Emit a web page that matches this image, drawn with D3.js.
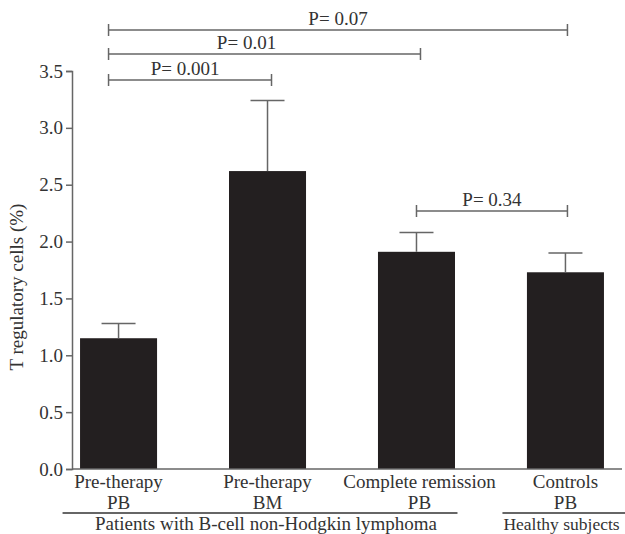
<!DOCTYPE html>
<html>
<head>
<meta charset="utf-8">
<script src="https://cdn.jsdelivr.net/npm/d3@7"></script>
<style>
  body { margin: 0; background: #fff; }
</style>
</head>
<body>
<div id="chart"></div>
<script>
// dados do gráfico
const categories = ["Pre-therapy PB", "Pre-therapy BM", "Complete remission PB", "Controls PB"];
const categoryLines = [["Pre-therapy", "PB"], ["Pre-therapy", "BM"], ["Complete remission", "PB"], ["Controls", "PB"]];
const means = [1.15, 2.62, 1.91, 1.73];
const errors = [0.13, 0.62, 0.17, 0.17];
const yTicks = [0.0, 0.5, 1.0, 1.5, 2.0, 2.5, 3.0, 3.5];
const comparisons = [
  { from: 0, to: 3, label: "P= 0.07", level: 3 },
  { from: 0, to: 2, label: "P= 0.01", level: 2 },
  { from: 0, to: 1, label: "P= 0.001", level: 1 },
  { from: 2, to: 3, label: "P= 0.34", level: 0 }
];
const groups = [
  { first: 0, last: 2, label: "Patients with B-cell non-Hodgkin lymphoma" },
  { first: 3, last: 3, label: "Healthy subjects" }
];

const width = 625, height = 534;
const axisColor = "#666";
const serif = '"Liberation Serif", "Times New Roman", Times, serif';

const svg = d3.select("#chart").append("svg")
  .attr("width", width)
  .attr("height", height)
  .attr("font-family", serif)
  .style("font-family", serif);

// escalas
const y = d3.scaleLinear().domain([0, 3.5]).range([469, 71]);
const x = d3.scaleBand().domain(categories).range([72, 612])
  .paddingInner(0.483).paddingOuter(0.054);
const cx = (i) => x(categories[i]) + x.bandwidth() / 2;

// eixo Y
const yAxis = svg.append("g")
  .attr("transform", "translate(72,0)")
  .call(d3.axisLeft(y).tickValues(yTicks).tickFormat(d3.format(".1f")).tickSize(6).tickPadding(3))
  .attr("font-family", serif);
yAxis.select(".domain").attr("stroke", axisColor).attr("stroke-width", 1.5);
yAxis.selectAll(".tick line").attr("stroke", axisColor).attr("stroke-width", 1.5);
yAxis.selectAll(".tick text").attr("font-size", "19px").attr("fill", "#333");

svg.append("text")
  .attr("transform", `translate(23,${y(1.6)}) rotate(-90)`)
  .attr("text-anchor", "middle")
  .attr("font-size", "19px")
  .attr("fill", "#333")
  .text("T regulatory cells (%)");

// barras
svg.selectAll(".bar")
  .data(means)
  .enter()
  .append("rect")
  .attr("class", "bar")
  .attr("x", (d, i) => x(categories[i]))
  .attr("width", x.bandwidth())
  .attr("y", (d) => y(d))
  .attr("height", (d) => y(0) - y(d))
  .attr("fill", "#231f20");

// barras de erro
const err = svg.selectAll(".err").data(means).enter().append("g").attr("class", "err");
err.append("line")
  .attr("x1", (d, i) => cx(i)).attr("x2", (d, i) => cx(i))
  .attr("y1", (d) => y(d)).attr("y2", (d, i) => y(d + errors[i]))
  .attr("stroke", axisColor).attr("stroke-width", 1.5);
err.append("line")
  .attr("x1", (d, i) => cx(i) - 17).attr("x2", (d, i) => cx(i) + 17)
  .attr("y1", (d, i) => y(d + errors[i])).attr("y2", (d, i) => y(d + errors[i]))
  .attr("stroke", axisColor).attr("stroke-width", 1.5);

// eixo X
svg.append("line")
  .attr("x1", 72).attr("x2", 622)
  .attr("y1", y(0)).attr("y2", y(0))
  .attr("stroke", axisColor).attr("stroke-width", 1.5);

const xl = svg.selectAll(".xlabel").data(categoryLines).enter().append("text")
  .attr("class", "xlabel")
  .attr("text-anchor", "middle")
  .attr("font-size", "19px")
  .attr("fill", "#333");
xl.each(function (lines, i) {
  d3.select(this).selectAll("tspan").data(lines).enter().append("tspan")
    .attr("x", cx(i) + (i === 2 ? 3 : 0))
    .attr("y", (d, j) => 488 + j * 21)
    .text((d) => d);
});

// grupos
const bracketY = { 0: 211, 1: 80, 2: 54, 3: 30 };
groups.forEach((g) => {
  const x1 = g.first === 0 ? cx(g.first) - 56 : cx(g.first) - 63;
  const x2 = g.last === 3 ? width : cx(g.last) + 41;
  svg.append("line")
    .attr("x1", x1).attr("x2", x2)
    .attr("y1", 513).attr("y2", 513)
    .attr("stroke", "#333").attr("stroke-width", 1.5);
  svg.append("text")
    .attr("x", g.last === 3 ? x1 + 1 : (x1 + x2) / 2 + 6)
    .attr("y", 530)
    .attr("text-anchor", g.last === 3 ? "start" : "middle")
    .attr("font-size", g.last === 3 ? "17.5px" : "19px")
    .attr("fill", "#333")
    .text(g.label);
});

// comparações (valores de P)
comparisons.forEach((c) => {
  const x1 = c.from === 0 ? cx(c.from) - 10 : cx(c.from);
  const x2 = cx(c.to) + (c.to === 3 ? 2 : 4);
  const yy = bracketY[c.level];
  const gb = svg.append("g").attr("stroke", axisColor).attr("stroke-width", 1.5);
  gb.append("line").attr("x1", x1).attr("x2", x2).attr("y1", yy).attr("y2", yy);
  gb.append("line").attr("x1", x1).attr("x2", x1).attr("y1", yy - 6).attr("y2", yy + 6);
  gb.append("line").attr("x1", x2).attr("x2", x2).attr("y1", yy - 6).attr("y2", yy + 6);
  svg.append("text")
    .attr("x", (x1 + x2) / 2 + (c.level === 2 ? -18 : c.level === 1 ? -5 : 0))
    .attr("y", yy - 5)
    .attr("text-anchor", "middle")
    .attr("font-size", "19px")
    .attr("fill", "#333")
    .text(c.label);
});
</script>
</body>
</html>
